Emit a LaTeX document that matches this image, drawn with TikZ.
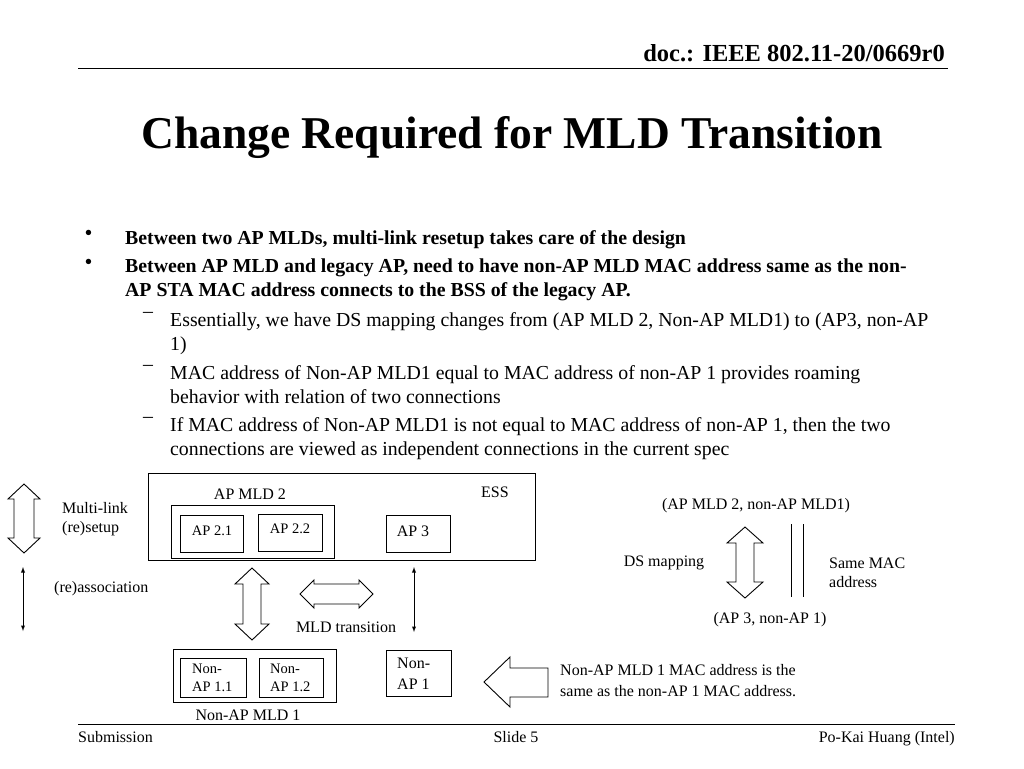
\documentclass[tikz,border=0pt]{standalone}
\usepackage{fontspec}
\setmainfont{Liberation Serif}
\begin{document}
\begin{tikzpicture}[x=1pt,y=-1pt,
  bx/.style={draw,line width=0.9pt},
  blk/.style={draw,line width=0.9pt,fill=white},
  sm/.style={font=\fontsize{16}{19}\selectfont,inner sep=0pt},
  body/.style={font=\fontsize{19.8}{24}\selectfont,anchor=north west,inner sep=0pt,align=left},
  bbody/.style={body,font=\fontsize{19.8}{24}\selectfont\bfseries},
  thin/.style={line width=0.9pt,<->,>=latex}]
\useasboundingbox (0,0) rectangle (1024,768);
\newcommand\vdblarrow[6]{% cx, top, bottom, halfwidth, shaft half, head
 \draw[blk] (#1,#2) -- (#1+#4,#2+#6) -- (#1+#5,#2+#6) -- (#1+#5,#3-#6) -- (#1+#4,#3-#6) -- (#1,#3) -- (#1-#4,#3-#6) -- (#1-#5,#3-#6) -- (#1-#5,#2+#6) -- (#1-#4,#2+#6) -- cycle;}
% header
\node[anchor=base east,inner sep=0pt,font=\fontsize{24.5}{28}\selectfont\bfseries] (doc) at (945,61) {doc.: IEEE 802.11-20/0669r0};
\draw[line width=1pt] (78,68) -- (948,68);
\node[font=\fontsize{45.5}{50}\selectfont\bfseries] (title) at (512,138) {Change Required for MLD Transition};
% bullets
\node[bbody] (b1) at (85,230) {•};
\node[bbody] (t1) at (125,230) {Between two AP MLDs, multi-link resetup takes care of the design};
\node[bbody] (b2) at (85,259) {•};
\node[bbody] (t2) at (125,259) {Between AP MLD and legacy AP, need to have non-AP MLD MAC address same as the non-\\AP STA MAC address connects to the BSS of the legacy AP.};
\node[body] (d1) at (143,312) {–};
\node[body] (s1) at (170,312) {Essentially, we have DS mapping changes from (AP MLD 2, Non-AP MLD1) to (AP3, non-AP\\1)};
\node[body] (d2) at (143,365) {–};
\node[body] (s2) at (170,365) {MAC address of Non-AP MLD1 equal to MAC address of non-AP 1 provides roaming\\behavior with relation of two connections};
\node[body] (d3) at (143,417) {–};
\node[body] (s3) at (170,417) {If MAC address of Non-AP MLD1 is not equal to MAC address of non-AP 1, then the two\\connections are viewed as independent connections in the current spec};
% boxes
\draw[bx] (148,473) rectangle (535,560);
\draw[bx] (171,505) rectangle (334,558);
\draw[bx] (180,515) rectangle (243,552);
\draw[bx] (258,514) rectangle (322,551);
\draw[bx] (386,515) rectangle (450,552);
\draw[bx] (173,649) rectangle (336,702);
\draw[bx] (180,658) rectangle (246,697);
\draw[bx] (259,658) rectangle (323,697);
\draw[bx] (386,650) rectangle (451,696);
\node[sm] (ess) at (495,492) {ESS};
\node[sm] (apmld) at (250,494) {AP MLD 2};
\node[sm,font=\fontsize{14.5}{18}\selectfont] (ap21) at (212,531) {AP 2.1};
\node[sm,font=\fontsize{14.5}{18}\selectfont] (ap22) at (290,529) {AP 2.2};
\node[sm] (ap3) at (413,531) {AP 3};
\node[sm,anchor=north west,align=left,font=\fontsize{14.5}{18}\selectfont] (n11) at (192,664) {Non-\\AP 1.1};
\node[sm,anchor=north west,align=left,font=\fontsize{14.5}{18}\selectfont] (n12) at (270,664) {Non-\\AP 1.2};
\node[sm,anchor=north west,align=left,font=\fontsize{16}{21}\selectfont] (n1) at (397,658) {Non-\\AP 1};
\node[sm] (nmld) at (248,715) {Non-AP MLD 1};
\node[sm,anchor=west,align=left] (ml) at (62,519) {Multi-link\\(re)setup};
\node[sm,anchor=west] (ra) at (54,589) {(re)association};
\node[sm] (mt) at (346,627) {MLD transition};
% arrows
\vdblarrow{24}{484}{553}{16}{10}{15}
\draw[thin] (23,567) -- (23,631);
\vdblarrow{252}{568}{640}{17}{9}{16}
\draw[thin] (414,567) -- (414,632);
\draw[blk] (300,594) -- (314,580) -- (314,584) -- (359,584) -- (359,580) -- (373,594) -- (359,608) -- (359,604) -- (314,604) -- (314,608) -- cycle;
\vdblarrow{745}{527}{598}{18}{9}{16}
\draw[blk] (484,682) -- (510,657) -- (510,668) -- (548,668) -- (548,697) -- (510,697) -- (510,707) -- cycle;
\draw[line width=0.9pt] (791,524) -- (791,597) (803,524) -- (803,597);
\node[sm] (p1) at (756,506) {(AP MLD 2, non-AP MLD1)};
\node[sm] (p2) at (770,620) {(AP 3, non-AP 1)};
\node[sm] (dsm) at (664,563) {DS mapping};
\node[sm,anchor=west,align=left] (smac) at (829,573) {Same MAC\\address};
\node[sm,anchor=west,align=left,font=\fontsize{16}{21}\selectfont] (note) at (560,681) {Non-AP MLD 1 MAC address is the\\same as the non-AP 1 MAC address.};
% footer
\draw[line width=1pt] (78,724) -- (955,724);
\node[sm,anchor=base west] (sub) at (78,742) {Submission};
\node[sm,anchor=base] (sl) at (516,742) {Slide 5};
\node[sm,anchor=base east] (au) at (955,742) {Po-Kai Huang (Intel)};
\end{tikzpicture}
\end{document}
